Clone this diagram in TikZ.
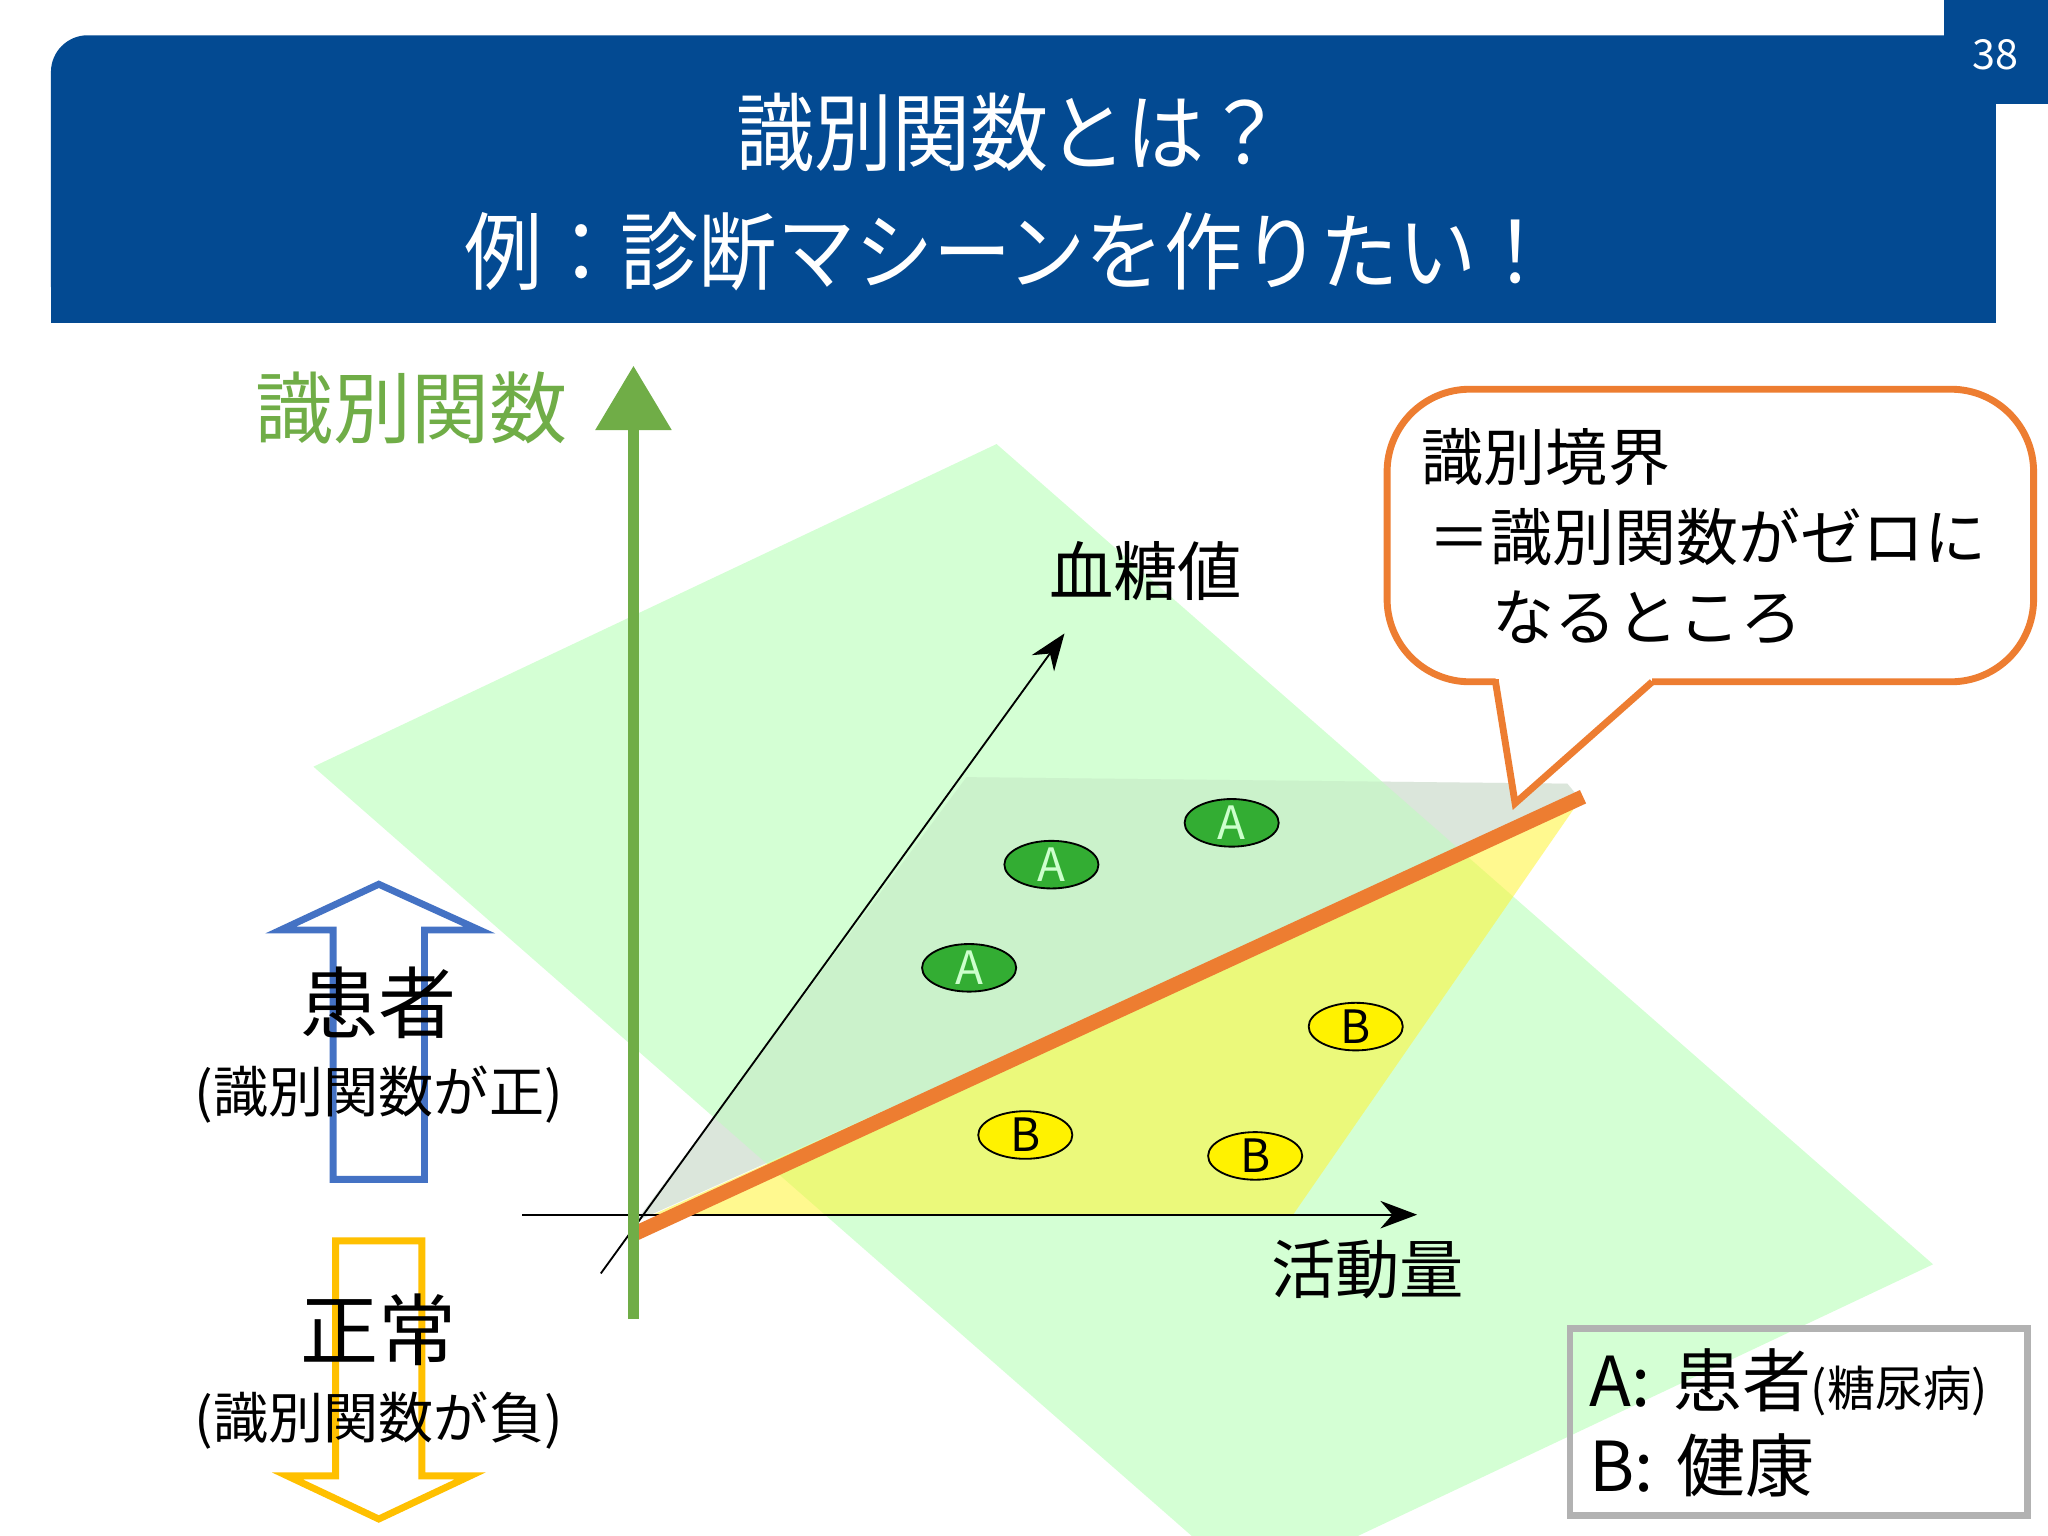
\documentclass[tikz,border=0pt]{standalone}
\usepackage{fontspec}
\setmainfont{Noto Sans CJK JP}
\usetikzlibrary{arrows.meta,shapes.geometric}
\definecolor{hdr}{HTML}{034A92}
\definecolor{axg}{HTML}{70AD47}
\definecolor{org}{HTML}{ED7D31}
\definecolor{blu}{HTML}{4472C4}
\definecolor{ylw}{HTML}{FFC000}
\definecolor{pl}{HTML}{C6FFC6}
\tikzset{
 ea/.style={ellipse,draw=black,fill=green!60!black!80,minimum width=0.72cm,minimum height=0.3cm,inner sep=0pt,font=\fontsize{10}{10}\selectfont,text=green!20},
 eb/.style={ellipse,draw=black,fill=yellow,minimum width=0.72cm,minimum height=0.3cm,inner sep=0pt,font=\fontsize{10}{10}\selectfont,text=black},
 lbl/.style={inner sep=0pt,font=\fontsize{14}{14}\selectfont}
}
\begin{document}
\begin{tikzpicture}[x=0.01cm,y=-0.01cm]
\useasboundingbox (0,0) rectangle (1568,1176);
\fill[white] (0,0) rectangle (1568,1176);
% header
\fill[hdr] (1488,0) rectangle (1568,80);
\fill[hdr,rounded corners=8pt] (39,247) -- (39,27) -- (1528,27) -- (1528,247) -- cycle;
\fill[hdr] (39,200) rectangle (1528,247);
\node[text=white,font=\fontsize{9}{9}\selectfont] (pg) at (1528,42) {38};
\node[text=white,font=\fontsize{18.5}{24}\selectfont,align=center,xscale=0.92] (title) at (773,147) {識別関数とは？\\[2pt]例：診断マシーンを作りたい！};
% planes
\fill[gray!25,opacity=0.8] (487,935) -- (740,595) -- (1200,600) -- (1210,612) -- cycle;
\fill[pl,opacity=0.75] (240,587) -- (763,340) -- (1480,968) -- (957,1215) -- cycle;
\fill[green!40!gray!30,opacity=0.35] (487,935) -- (740,595) -- (1200,600) -- (1210,612) -- cycle;
\fill[yellow!80,opacity=0.55] (500,930) -- (1210,612) -- (990,930) -- cycle;
% axes
\draw[-{Stealth[length=8pt]}] (400,930) coordinate (hx0) -- (1085,930) coordinate (hx1);
\draw[-{Stealth[length=8pt]}] (460,975) coordinate (dx0) -- (815,485) coordinate (dx1);
\draw[org,line width=3.2pt] (485,945) coordinate (o0) -- (1212,610) coordinate (o1);
\draw[axg,line width=2.4pt,-{Triangle[length=14pt,width=16pt]}] (485,1010) coordinate (v0) -- (485,280) coordinate (v1);
\node[lbl,text=axg,font=\fontsize{17}{17}\selectfont] (lf) at (315,312) {識別関数};
\node[lbl] (ly) at (877,437) {血糖値};
\node[lbl] (lx) at (1047,972) {活動量};
% points
\node[ea] (a1) at (805,662) {A};
\node[ea] (a2) at (943,630) {A};
\node[ea] (a3) at (742,741) {A};
\node[eb] (b1) at (1038,786) {B};
\node[eb] (b2) at (785,869) {B};
\node[eb] (b3) at (961,885) {B};
% callout
\draw[org,line width=1.5pt,fill=white,rounded corners=18pt] (1145,522) -- (1062,522) -- (1062,298) -- (1557,298) -- (1557,522) -- (1265,522);
\draw[org,line width=1.5pt,fill=white] (1145,520) -- (1145,522) -- (1160,615) coordinate (ct) -- (1265,522);
\node[lbl,anchor=west,font=\fontsize{13.5}{13.5}\selectfont] (c1) at (1088,350) {識別境界};
\node[lbl,anchor=west,font=\fontsize{13.5}{13.5}\selectfont] (c2) at (1093,411) {＝識別関数がゼロに};
\node[lbl,anchor=west,font=\fontsize{13.5}{13.5}\selectfont] (c3) at (1142,473) {なるところ};
% up arrow
\draw[blu,line width=1.5pt] (255,903) -- (255,712) -- (215,712) -- (290,677) -- (367,712) -- (325,712) -- (325,903) -- cycle;
\node[lbl,font=\fontsize{17}{17}\selectfont] (p1) at (290,768) {患者};
\node[lbl,font=\fontsize{12}{12}\selectfont] (p2) at (290,838) {(識別関数が正)};
% down arrow
\draw[ylw,line width=1.5pt] (257,950) -- (257,1130) -- (220,1130) -- (290,1163) -- (360,1130) -- (323,1130) -- (323,950) -- cycle;
\node[lbl,font=\fontsize{17}{17}\selectfont] (n1) at (290,1018) {正常};
\node[lbl,font=\fontsize{12}{12}\selectfont] (n2) at (290,1088) {(識別関数が負)};
% legend
\draw[gray!60,line width=1.5pt] (1202,1017) rectangle (1552,1160);
\node[lbl,anchor=west,font=\fontsize{15}{15}\selectfont] (g1) at (1216,1058) {A:\,\,患者{\fontsize{10.5}{10.5}\selectfont(糖尿病)}};
\node[lbl,anchor=west,font=\fontsize{15}{15}\selectfont] (g2) at (1216,1122) {B:\,\,健康};
\end{tikzpicture}
\end{document}
